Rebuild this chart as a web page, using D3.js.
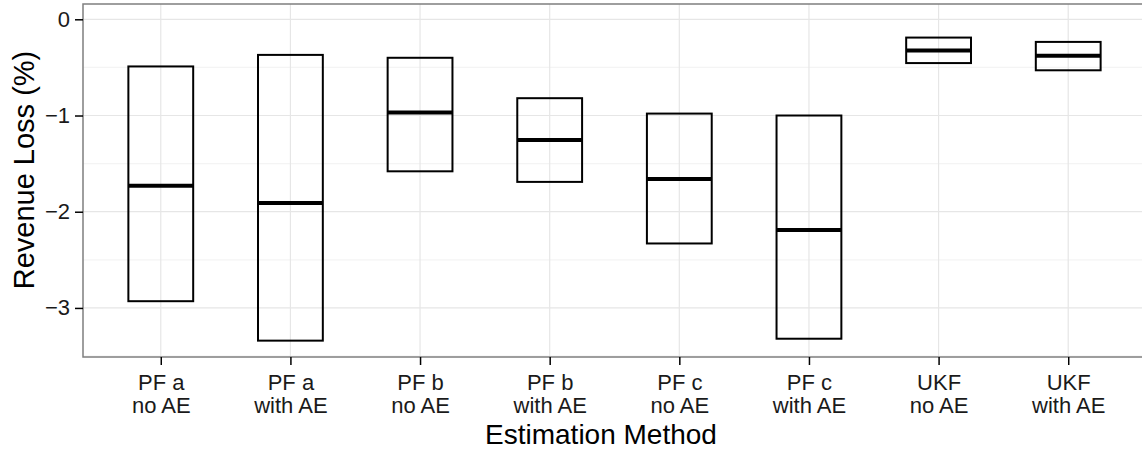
<!DOCTYPE html>
<html>
<head>
<meta charset="utf-8">
<script src="https://cdn.jsdelivr.net/npm/d3@7"></script>
<style>
  html, body { margin: 0; padding: 0; background: #fff; }
  svg { display: block; font-family: "Liberation Sans", Arial, Helvetica, sans-serif; }
</style>
</head>
<body>
<svg id="chart" width="1142" height="450"></svg>
<script>
// Estimation methods (two-line tick labels)
const methods = ["PF a\nno AE", "PF a\nwith AE", "PF b\nno AE", "PF b\nwith AE",
                 "PF c\nno AE", "PF c\nwith AE", "UKF\nno AE", "UKF\nwith AE"];
// Revenue loss (%) summary per method
const upper  = [-0.49, -0.37, -0.40, -0.82, -0.98, -1.00, -0.19, -0.235];
const middle = [-1.73, -1.91, -0.97, -1.255, -1.66, -2.19, -0.325, -0.38];
const lower  = [-2.93, -3.34, -1.58, -1.69, -2.33, -3.32, -0.455, -0.53];
// Axis ticks
const yMajor = [0, -1, -2, -3];
const yMinor = [-0.5, -1.5, -2.5, -3.5];
const yLabels = ["0", "\u22121", "\u22122", "\u22123"];

const svg = d3.select("#chart");
const panel = { left: 83, top: 4, right: 1146, bottom: 357 };

const x = d3.scalePoint().domain(methods).range([panel.left, panel.right]).padding(0.6);
const y = d3.scaleLinear().domain([-3.51, 0.159]).range([panel.bottom, panel.top]);
const boxW = x.step() * 0.5;

// panel background
svg.append("rect")
  .attr("x", panel.left).attr("y", panel.top)
  .attr("width", panel.right - panel.left).attr("height", panel.bottom - panel.top)
  .attr("fill", "#fff");

const grid = svg.append("g");
grid.selectAll("line.minor").data(yMinor).join("line")
  .attr("class", "minor")
  .attr("x1", panel.left).attr("x2", panel.right)
  .attr("y1", d => y(d)).attr("y2", d => y(d))
  .attr("stroke", "#f4f4f4").attr("stroke-width", 1.2);
grid.selectAll("line.majory").data(yMajor).join("line")
  .attr("class", "majory")
  .attr("x1", panel.left).attr("x2", panel.right)
  .attr("y1", d => y(d)).attr("y2", d => y(d))
  .attr("stroke", "#e6e6e6").attr("stroke-width", 1.2);
grid.selectAll("line.majorx").data(methods).join("line")
  .attr("class", "majorx")
  .attr("x1", d => x(d)).attr("x2", d => x(d))
  .attr("y1", panel.top).attr("y2", panel.bottom)
  .attr("stroke", "#e6e6e6").attr("stroke-width", 1.2);

// crossbars: box from lower to upper, thick line at the middle value
const rows = methods.map((m, i) => ({ m, lo: lower[i], mid: middle[i], hi: upper[i] }));
const boxes = svg.append("g").selectAll("g").data(rows).join("g");
boxes.append("rect")
  .attr("x", d => x(d.m) - boxW / 2)
  .attr("y", d => y(d.hi))
  .attr("width", boxW)
  .attr("height", d => y(d.lo) - y(d.hi))
  .attr("fill", "none").attr("stroke", "#000").attr("stroke-width", 2);
boxes.append("line")
  .attr("x1", d => x(d.m) - boxW / 2).attr("x2", d => x(d.m) + boxW / 2)
  .attr("y1", d => y(d.mid)).attr("y2", d => y(d.mid))
  .attr("stroke", "#000").attr("stroke-width", 4);

// panel border
svg.append("rect")
  .attr("x", panel.left).attr("y", panel.top)
  .attr("width", panel.right - panel.left).attr("height", panel.bottom - panel.top)
  .attr("fill", "none").attr("stroke", "#7f7f7f").attr("stroke-width", 1.5);

// y axis
const yAxis = d3.axisLeft(y).tickValues(yMajor).tickSize(8).tickPadding(5)
  .tickFormat((d, i) => yLabels[i]);
const gy = svg.append("g").attr("transform", `translate(${panel.left},0)`).call(yAxis);
gy.select(".domain").remove();
gy.selectAll(".tick line").attr("stroke", "#000").attr("stroke-width", 1.5);
gy.selectAll(".tick text").attr("fill", "#1a1a1a").attr("font-size", 22)
  .attr("font-family", "Liberation Sans, Arial, sans-serif");

// x axis
const xAxis = d3.axisBottom(x).tickSize(8).tickPadding(4).tickFormat("");
const gx = svg.append("g").attr("transform", `translate(0,${panel.bottom})`).call(xAxis);
gx.select(".domain").remove();
gx.selectAll(".tick line").attr("stroke", "#000").attr("stroke-width", 1.5);
gx.selectAll(".tick").each(function (d) {
  const t = d3.select(this).append("text")
    .attr("fill", "#1a1a1a").attr("font-size", 22).attr("text-anchor", "middle");
  d.split("\n").forEach((s, k) => {
    t.append("tspan").attr("x", 0).attr("y", 32.5 + k * 23.3).text(s);
  });
});

// axis titles
svg.append("text")
  .attr("x", 601).attr("y", 444)
  .attr("text-anchor", "middle").attr("font-size", 28).attr("fill", "#000")
  .text("Estimation Method");
svg.append("text")
  .attr("transform", "translate(34,170) rotate(-90)")
  .attr("text-anchor", "middle").attr("font-size", 29).attr("fill", "#000")
  .text("Revenue Loss (%)");
</script>
</body>
</html>
